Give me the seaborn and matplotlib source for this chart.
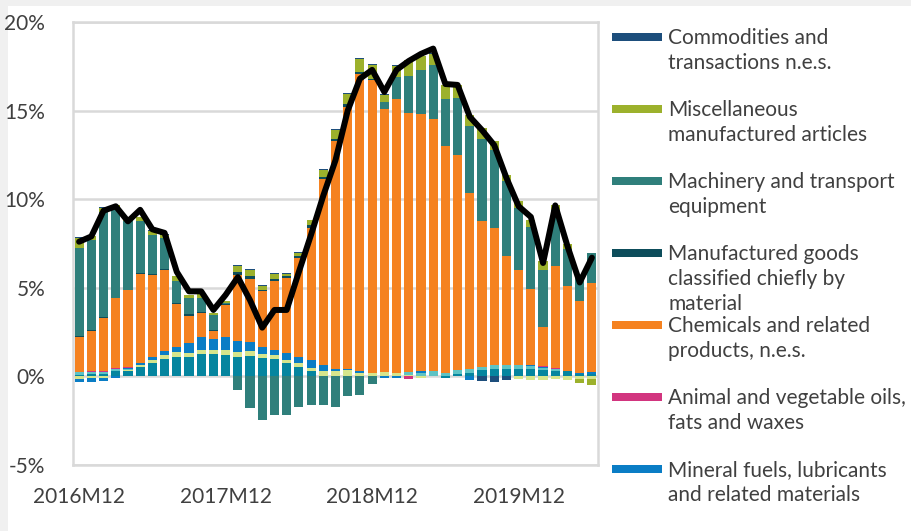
import numpy as np
import pandas as pd
import matplotlib
matplotlib.use('Agg')
import matplotlib.pyplot as plt
from matplotlib.patches import Rectangle
import seaborn as sns

# months 2016M12 .. 2020M06
months = [f"{p.year}M{p.month:02d}" for p in pd.period_range('2016-12', '2020-06', freq='M')]
tick_labels = ['2016M12', '2017M12', '2018M12', '2019M12']

food = [0.10, 0.15, 0.15, 0.30, 0.30, 0.55, 0.75, 1.00, 1.10, 1.10, 1.25, 1.25, 1.20, 1.10, 1.15,
        1.05, 1.00, 0.75, 0.52, 0.30, 0.05, 0.05, 0.05, 0.00, 0.00, 0.00, 0.00, 0.00, 0.00, 0.05,
        -0.10, 0.14, 0.20, 0.34, 0.40, 0.40, 0.40, 0.40, 0.35, 0.30, 0.28, 0.15, 0.15]
beverages = [-0.15, -0.10, -0.10, 0.00, 0.05, 0.10, 0.15, 0.20, 0.25, 0.20, 0.25, 0.25, 0.30, 0.30, 0.28,
             0.20, 0.20, 0.20, 0.25, 0.20, 0.25, 0.25, 0.30, 0.20, 0.20, 0.25, 0.20, 0.10, -0.10, 0.00,
             0.00, 0.00, 0.00, 0.00, 0.00, 0.00, -0.15, -0.20, -0.20, -0.15, -0.20, -0.15, -0.15]
crude = [0.15, 0.10, 0.10, 0.10, 0.05, 0.00, 0.00, 0.00, 0.00, 0.00, 0.00, 0.00, 0.00, 0.00, 0.00,
         0.00, 0.00, 0.00, 0.00, 0.00, 0.00, 0.00, 0.00, 0.00, 0.00, 0.00, 0.00, 0.15, 0.20, 0.25,
         0.20, 0.20, 0.23, 0.18, 0.24, 0.22, 0.22, 0.17, 0.15, 0.12, 0.05, 0.00, 0.00]
mineral = [-0.15, -0.20, -0.15, -0.10, 0.10, 0.12, 0.20, 0.23, 0.33, 0.60, 0.70, 0.60, 0.70, 0.60, 0.50,
           0.40, 0.30, 0.35, 0.33, 0.40, 0.35, 0.10, 0.05, 0.10, 0.00, -0.10, -0.10, 0.00, 0.10, 0.00,
           0.00, 0.00, -0.20, 0.00, 0.00, 0.00, 0.00, 0.05, 0.05, 0.00, 0.00, 0.05, 0.10]
animal = [0.00, 0.05, 0.05, 0.05, 0.05, 0.00, 0.00, 0.00, 0.00, 0.00, 0.00, 0.00, 0.00, 0.00, 0.00,
          0.00, 0.00, 0.00, 0.00, 0.00, 0.00, 0.00, 0.00, 0.00, 0.00, 0.00, 0.00, -0.15, 0.00, 0.00,
          0.00, 0.00, 0.00, 0.00, 0.00, 0.00, 0.00, 0.00, 0.03, 0.07, 0.00, 0.00, 0.00]
chemicals = [2.00, 2.25, 3.00, 3.95, 4.30, 5.00, 4.65, 4.57, 2.40, 1.50, 1.40, 0.45, 1.85, 3.75, 3.57,
             3.15, 3.90, 4.25, 5.60, 7.50, 10.50, 12.90, 14.80, 16.77, 16.50, 14.83, 15.45, 14.60, 14.50, 14.20,
             12.80, 12.16, 9.92, 8.27, 7.73, 6.16, 5.38, 4.32, 2.22, 5.76, 4.77, 4.04, 5.03]
manufactured = [0.05, 0.05, 0.05, 0.05, 0.05, 0.05, 0.05, 0.05, 0.05, 0.10, 0.05, 0.05, 0.05, 0.15, 0.15,
                0.10, 0.10, 0.10, 0.10, 0.15, 0.10, 0.10, 0.15, 0.10, 0.10, 0.00, 0.00, 0.00, 0.00, 0.00,
                0.00, 0.00, 0.00, 0.00, 0.00, 0.00, 0.00, 0.00, 0.00, 0.00, 0.00, 0.00, 0.00]
machinery = [4.95, 5.10, 5.95, 5.05, 3.85, 2.95, 2.20, 1.75, 1.25, 0.90, 0.80, 0.85, 0.05, -0.75, -1.80,
             -2.45, -2.20, -2.20, -1.70, -1.60, -1.60, -1.70, -1.10, -1.05, -0.45, 0.40, 1.25, 2.10, 2.50, 3.10,
             2.65, 3.20, 3.80, 4.60, 4.42, 4.22, 3.50, 3.49, 3.23, 3.15, 2.10, 1.40, 1.70]
miscellaneous = [0.55, 0.20, 0.20, 0.15, 0.20, 0.20, 0.20, 0.20, 0.30, 0.20, 0.25, 0.15, 0.10, 0.35, 0.35,
                 0.20, 0.30, 0.15, 0.15, 0.25, 0.40, 0.50, 0.60, 0.75, 0.80, 0.40, 0.60, 0.90, 0.80, 0.60,
                 0.80, 0.75, 0.60, 0.65, 0.50, 0.38, 0.38, 0.42, 0.47, 0.30, 0.30, -0.20, -0.35]
commodities = [0.05, 0.05, 0.05, 0.05, 0.05, 0.05, 0.05, 0.05, 0.00, 0.00, 0.00, 0.00, 0.00, 0.05, 0.05,
               0.05, 0.05, 0.05, 0.05, 0.05, 0.05, 0.05, 0.05, 0.05, 0.05, 0.05, 0.05, 0.00, 0.00, 0.05,
               0.00, 0.00, 0.00, -0.25, -0.30, -0.20, 0.00, 0.00, 0.00, 0.00, 0.00, 0.00, 0.00]
total = [7.6, 7.9, 9.35, 9.6, 8.75, 9.4, 8.3, 8.1, 5.9, 4.8, 4.8, 3.75, 4.6, 5.6, 4.3,
         2.75, 3.75, 3.75, 5.9, 8.0, 10.2, 12.2, 15.0, 16.8, 17.3, 16.05, 17.3, 17.8, 18.2, 18.5,
         16.5, 16.45, 14.65, 13.9, 13.05, 11.2, 9.6, 9.0, 6.4, 9.65, 7.35, 5.3, 6.7]

# bottom -> top stacking order, legend only shows the upper seven
series = [
    ('Food and live animals', food, '#05859F'),
    ('Beverages and tobacco', beverages, '#D6E58C'),
    ('Crude materials, inedible, except fuels', crude, '#5EC3C4'),
    ('Mineral fuels, lubricants\nand related materials', mineral, '#0A7DC5'),
    ('Animal and vegetable oils,\nfats and waxes', animal, '#D2357F'),
    ('Chemicals and related\nproducts, n.e.s.', chemicals, '#F58220'),
    ('Manufactured goods\nclassified chiefly by\nmaterial', manufactured, '#0D4D5B'),
    ('Machinery and transport\nequipment', machinery, '#2F7F7B'),
    ('Miscellaneous\nmanufactured articles', miscellaneous, '#9CB12C'),
    ('Commodities and\ntransactions n.e.s.', commodities, '#1D4E7C'),
]
legend_items = series[3:][::-1]

sns.set_theme(style='white')
plt.rcParams['font.family'] = ['Lato', 'DejaVu Sans']
text_col = '#404040'
grid_col = '#D9D9D9'

fig = plt.figure(figsize=(9.11, 5.31), dpi=100)
fig.patch.set_facecolor('#F0F0F0')
fig.add_artist(Rectangle((8 / 911, 0), 1, 525 / 531, transform=fig.transFigure,
                         facecolor='white', edgecolor='none', zorder=-10))
ax = fig.add_axes([73 / 911, 66 / 531, 525 / 911, 443 / 531])

x = np.arange(len(months))
pos_base = np.zeros(len(months))
neg_base = np.zeros(len(months))
for name, vals, col in series:
    v = np.array(vals)
    bottom = np.where(v >= 0, pos_base, neg_base)
    df = pd.DataFrame({'month': x, 'val': v})
    sns.barplot(data=df, x='month', y='val', bottom=bottom, color=col, saturation=1,
                width=0.75, errorbar=None, ax=ax, zorder=3, linewidth=0)
    pos_base = np.where(v >= 0, pos_base + v, pos_base)
    neg_base = np.where(v < 0, neg_base + v, neg_base)

sns.lineplot(x=x, y=total, color='black', linewidth=4.3, ax=ax, zorder=5)

ax.set_xlim(-0.5, len(months) - 0.5)
ax.set_ylim(-5, 20)
ax.set_yticks([-5, 0, 5, 10, 15, 20])
ax.set_yticklabels([f'{t}%' for t in [-5, 0, 5, 10, 15, 20]])
ax.set_xticks([months.index(t) for t in tick_labels])
ax.set_xticklabels(tick_labels)
ax.set_xlabel('')
ax.set_ylabel('')
ax.yaxis.grid(True, color=grid_col, linewidth=1.8, zorder=0)
ax.set_axisbelow(True)
for sp in ax.spines.values():
    sp.set_visible(True)
    sp.set_color(grid_col)
    sp.set_linewidth(1.8)
ax.tick_params(axis='both', length=0, labelsize=15, labelcolor=text_col)
ax.tick_params(axis='y', pad=20)
ax.tick_params(axis='x', pad=16)

# legend drawn to the right, handle aligned with first text line
line_px = 25
for i, (name, vals, col) in enumerate(legend_items):
    yc = 37 + 72 * i
    n_extra = name.count('\n')
    fig.add_artist(Rectangle((612 / 911, 1 - (yc + 4) / 531), 50 / 911, 8 / 531,
                             transform=fig.transFigure, facecolor=col, edgecolor='none'))
    fig.text(668 / 911, 1 - (yc + 7 + n_extra * line_px) / 531, name, fontsize=15,
             color=text_col, va='baseline', ha='left', linespacing=1.3)

fig.savefig('out.png', dpi=100)
